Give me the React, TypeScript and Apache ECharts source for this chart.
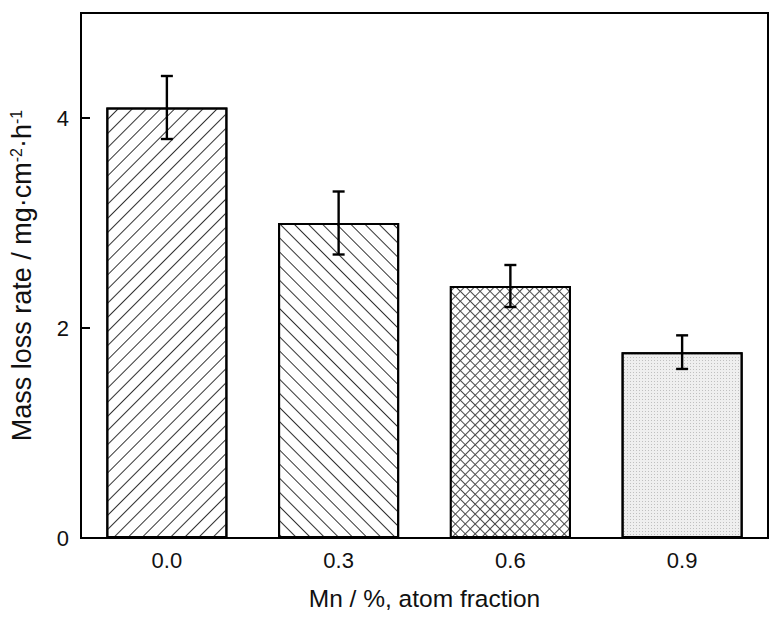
import React, { useEffect, useRef } from "react";
import * as echarts from "echarts";

const categories = ["0.0", "0.3", "0.6", "0.9"];
const massLossRate = [4.1, 3.0, 2.4, 1.77];
const errorMargin = [0.3, 0.3, 0.2, 0.16];
const yMin = 0;
const yMax = 5;
const yInterval = 2;

const FONT = "'Liberation Sans', Arial, Helvetica, sans-serif";

const fills = ["#fff", "#fff", "#4a4a4a", "#efefef"];

const decals: any[] = [
  {
    symbol: "rect",
    symbolSize: 1,
    dashArrayX: [1, 0],
    dashArrayY: [1, 9],
    rotation: -Math.PI / 4,
    color: "#333",
  },
  {
    symbol: "rect",
    symbolSize: 1,
    dashArrayX: [1, 0],
    dashArrayY: [1, 9],
    rotation: Math.PI / 4,
    color: "#333",
  },
  {
    symbol: "rect",
    symbolSize: 1,
    dashArrayX: [6, 1],
    dashArrayY: [6, 1],
    rotation: Math.PI / 4,
    color: "#fff",
  },
  {
    symbol: "rect",
    symbolSize: 1,
    dashArrayX: [1, 2],
    dashArrayY: [1, 2],
    rotation: 0,
    color: "#c0c0c0",
  },
];

export default function App() {
  const ref = useRef<HTMLDivElement>(null);
  useEffect(() => {
    const chart = echarts.init(ref.current!, null, { renderer: "svg" });
    const option: any = {
      animation: false,
      backgroundColor: "#fff",
      grid: {
        left: 79,
        right: 12,
        top: 13,
        bottom: 85,
        show: true,
        borderColor: "#000",
        borderWidth: 2,
        backgroundColor: "transparent",
      },
      xAxis: {
        type: "category",
        data: categories,
        axisTick: { show: false },
        axisLine: { lineStyle: { color: "#000", width: 2 } },
        axisLabel: {
          margin: 11,
          fontSize: 22,
          color: "#111",
          fontFamily: FONT,
        },
        name: "Mn / %, atom fraction",
        nameLocation: "middle",
        nameGap: 48,
        nameTextStyle: { fontSize: 24.5, color: "#111", fontFamily: FONT },
      },
      yAxis: {
        type: "value",
        min: yMin,
        max: yMax,
        interval: yInterval,
        splitLine: { show: false },
        axisLine: { show: true, lineStyle: { color: "#000", width: 2 } },
        axisTick: {
          show: true,
          inside: true,
          length: 9,
          lineStyle: { color: "#000", width: 2 },
        },
        axisLabel: {
          margin: 12,
          fontSize: 22,
          color: "#111",
          fontFamily: FONT,
          showMaxLabel: false,
          formatter: (v: number) => (v % yInterval === 0 ? String(v) : ""),
        },
        name: "Mass loss rate / mg·cm{sup|-2}·h{sup|-1}",
        nameLocation: "middle",
        nameGap: 46,
        nameTextStyle: {
          fontSize: 27,
          color: "#111",
          fontFamily: FONT,
          rich: {
            sup: {
              fontSize: 16,
              verticalAlign: "top",
              color: "#111",
              fontFamily: FONT,
            },
          },
        },
      },
      series: [
        {
          type: "bar",
          barWidth: "70.5%",
          data: massLossRate.map((v, i) => ({
            value: v,
            itemStyle: {
              color: fills[i],
              decal: decals[i],
              borderColor: "#000",
              borderWidth: 2,
            },
          })),
          z: 2,
        },
        {
          type: "custom",
          z: 5,
          data: massLossRate.map((v, i) => [i, v, errorMargin[i]]),
          encode: { x: 0, y: 1 },
          renderItem: (params: any, api: any) => {
            const x = api.value(0);
            const v = api.value(1);
            const e = api.value(2);
            const top = api.coord([x, v + e]);
            const bot = api.coord([x, v - e]);
            const hw = 6;
            const style = { stroke: "#000", lineWidth: 2.4 };
            return {
              type: "group",
              children: [
                {
                  type: "line",
                  shape: { x1: top[0], y1: top[1], x2: bot[0], y2: bot[1] },
                  style,
                },
                {
                  type: "line",
                  shape: { x1: top[0] - hw, y1: top[1], x2: top[0] + hw, y2: top[1] },
                  style,
                },
                {
                  type: "line",
                  shape: { x1: bot[0] - hw, y1: bot[1], x2: bot[0] + hw, y2: bot[1] },
                  style,
                },
              ],
            };
          },
        },
      ],
    };
    chart.setOption(option);
    return () => chart.dispose();
  }, []);
  return (
    <div
      ref={ref}
      style={{
        position: "fixed",
        left: 0,
        top: 0,
        width: 780,
        height: 623,
        background: "#fff",
      }}
    />
  );
}
